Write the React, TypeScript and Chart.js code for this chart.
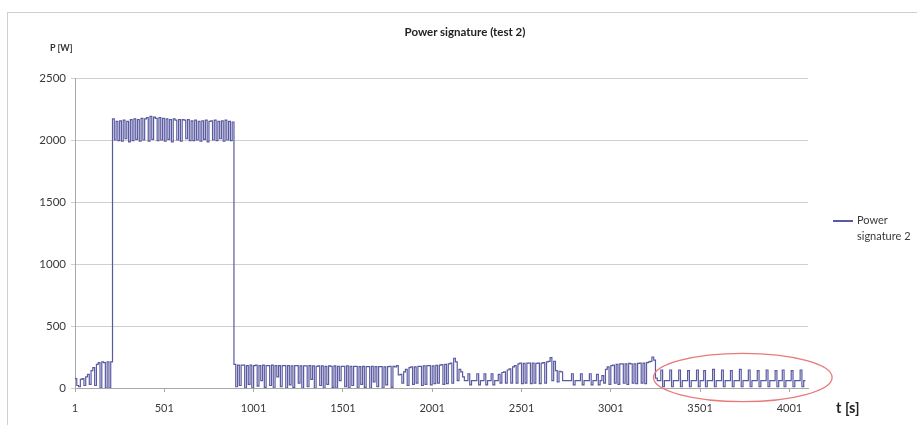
import React, { useEffect, useRef } from 'react';
import { Chart, registerables } from 'chart.js';

Chart.register(...registerables);

// ---- data (power in W, one sample every SAMPLE_STEP_S seconds starting at t = FIRST_T) ----
const FIRST_T = 1;
const SAMPLE_STEP_S = 10;
const X_MAX = 4105;
const xTickValues = [1, 501, 1001, 1501, 2001, 2501, 3001, 3501, 4001];
const yTickValues = [0, 500, 1000, 1500, 2000, 2500];

const rampStart = [75, 20, 10, 70, 75, 20, 90, 110, 30, 140, 165, 20, 190, 205, 0, 210, 205, 0, 210, 0, 210];

const highPlateau = [
  2170, 2000, 2150, 1995, 2155, 1990, 2160, 2010, 2150, 1985,
  2165, 1995, 2170, 2005, 2165, 1990, 2175, 2000, 2170, 2180,
  1990, 2190, 2005, 2185, 2175, 1995, 2180, 2000, 2175, 1990,
  2170, 2005, 2165, 1985, 2170, 2160, 2000, 2165, 1990, 2165,
  2160, 2010, 2165, 1995, 2155, 1995, 2160, 2000, 2150, 1990,
  2155, 2005, 2160, 1985, 2150, 2155, 2000, 2160, 1995, 2150,
  2010, 2155, 1990, 2160, 2000, 2150, 1995, 2145,
];

const lowBand = [
  190, 10, 185, 20, 185, 185, 0, 180, 30, 185,
  0, 180, 185, 15, 180, 60, 185, 5, 180, 180,
  20, 185, 0, 180, 90, 180, 10, 180, 180, 0,
  180, 25, 178, 5, 180, 180, 40, 178, 0, 178,
  178, 10, 180, 70, 178, 0, 175, 178, 20, 178,
  0, 175, 30, 178, 175, 5, 178, 0, 175, 60,
  175, 175, 10, 178, 0, 175, 20, 175, 175, 0,
  172, 30, 175, 5, 172, 172, 0, 175, 50, 172,
  10, 172, 172, 0, 170, 25, 172, 175, 5, 175,
  170, 180, 105,
];

const bump1 = [
  110, 40, 130, 150, 20, 165, 170, 30, 170, 40,
  175, 175, 20, 178, 30, 180, 180, 25, 178, 35,
  182, 40, 185, 188, 30, 190, 35, 195, 200, 40,
  240, 210, 60, 150, 130,
];

const pulses1 = [
  90, 60, 60, 115, 25, 60, 60, 60, 115, 25,
  60, 60, 115, 25, 60, 60, 115, 25, 60, 60,
];

const bump2 = [
  110, 40, 125, 130, 40, 145, 155, 40, 170, 180,
  40, 195, 200, 35, 198, 40, 200, 200, 35, 200,
  40, 198, 200, 35, 200, 205, 40, 210, 215, 245,
  60, 215, 140, 50, 135, 130, 60,
];

const pulses2 = [
  60, 60, 60, 60, 115, 25, 60, 60, 60, 115, 25,
  60, 60, 60, 115, 25, 60, 60, 110, 25, 60,
];

const bump3 = [
  100, 40, 150, 170, 30, 180, 185, 40, 190, 30,
  195, 195, 40, 195, 30, 198, 195, 40, 195, 35,
  198, 200, 40, 200, 35, 205, 210, 215, 250, 225, 80,
];

const pulses3 = [
  60, 60, 145, 10,
  60, 60, 60, 145, 10,
  60, 60, 60, 145, 10,
  60, 60, 60, 140, 10,
  60, 60, 60, 145, 10,
  60, 60, 140, 10,
  60, 60, 60, 150, 10,
  60, 60, 60, 145, 10,
  60, 60, 60, 140, 10,
  60, 60, 60, 150, 10,
  60, 60, 60, 145, 10,
  60, 60, 60, 140, 10,
  60, 60, 60, 145, 10,
  60, 60, 60, 140, 10,
  60, 60, 145, 10,
  60, 60, 60, 140, 10,
  60, 60, 60, 145, 10,
  60, 60,
];

// highlighted region (red ellipse), in data units
const highlightTime = [3240, 4240];
const highlightPower = [-110, 280];

const power: number[] = [
  ...rampStart, ...highPlateau, ...lowBand, ...bump1, ...pulses1,
  ...bump2, ...pulses2, ...bump3, ...pulses3,
];
const times: number[] = power.map((_, i) => FIRST_T + i * SAMPLE_STEP_S);

const FONT = 'Lato, "Open Sans", sans-serif';
const LINE_COLOR = '#5A5AA2';
const TEXT_COLOR = '#3A3A3A';

const ellipsePlugin = {
  id: 'highlightEllipse',
  afterDraw(chart: any) {
    const xs = chart.scales.x;
    const ys = chart.scales.y;
    const x1 = xs.getPixelForValue(highlightTime[0]);
    const x2 = xs.getPixelForValue(highlightTime[1]);
    const y1 = ys.getPixelForValue(highlightPower[1]);
    const y2 = ys.getPixelForValue(highlightPower[0]);
    const ctx = chart.ctx;
    ctx.save();
    ctx.beginPath();
    ctx.ellipse((x1 + x2) / 2, (y1 + y2) / 2, (x2 - x1) / 2, (y2 - y1) / 2, 0, 0, Math.PI * 2);
    ctx.strokeStyle = '#E97A7A';
    ctx.lineWidth = 1.3;
    ctx.stroke();
    ctx.restore();
  },
};

export default function App() {
  const canvasRef = useRef<HTMLCanvasElement | null>(null);

  useEffect(() => {
    document.body.style.margin = '0';
    const canvas = canvasRef.current;
    if (!canvas) return;
    const chart = new Chart(canvas, {
      type: 'line',
      data: {
        datasets: [
          {
            label: 'Power signature 2',
            data: times.map((t, i) => ({ x: t, y: power[i] })),
            borderColor: LINE_COLOR,
            borderWidth: 1.2,
            pointRadius: 0,
            stepped: true,
            fill: false,
          },
        ],
      },
      options: {
        animation: false,
        responsive: false,
        maintainAspectRatio: false,
        layout: { padding: { top: 78, right: 109, bottom: 0, left: 0 } },
        plugins: {
          legend: { display: false },
          title: { display: false },
          tooltip: { enabled: false },
        },
        scales: {
          x: {
            type: 'linear',
            min: FIRST_T,
            max: X_MAX,
            afterBuildTicks: (s: any) => {
              s.ticks = xTickValues.map((v) => ({ value: v }));
            },
            afterFit: (s: any) => {
              s.height = 37;
            },
            ticks: {
              autoSkip: false,
              maxRotation: 0,
              padding: 10,
              color: TEXT_COLOR,
              font: { family: FONT, size: 11 },
              callback: (v: any) => String(v),
            },
            grid: { drawOnChartArea: false, drawTicks: true, tickLength: 4, color: '#A8A8A8' },
            border: { display: true, color: '#A8A8A8' },
          },
          y: {
            min: 0,
            max: 2500,
            afterBuildTicks: (s: any) => {
              s.ticks = yTickValues.map((v) => ({ value: v }));
            },
            afterFit: (s: any) => {
              s.width = 75;
            },
            ticks: {
              padding: 5,
              color: TEXT_COLOR,
              font: { family: FONT, size: 11.5 },
              callback: (v: any) => String(v),
            },
            grid: { color: '#CFCFCF', tickLength: 4, drawTicks: true },
            border: { display: true, color: '#A8A8A8' },
          },
        },
      },
      plugins: [ellipsePlugin],
    } as any);
    return () => chart.destroy();
  }, []);

  return (
    <div style={{ position: 'relative', width: 917, height: 425, fontFamily: FONT, background: '#fff', overflow: 'hidden' }}>
      <div style={{ position: 'absolute', left: 7, top: 12, width: 920, height: 420, borderTop: '1px solid #CFCFCF', borderLeft: '1px solid #CFCFCF' }} />
      <canvas ref={canvasRef} width={917} height={425} style={{ position: 'absolute', left: 0, top: 0, display: 'block' }} />
      <div style={{ position: 'absolute', left: 465, top: 24, transform: 'translateX(-50%)', fontSize: 11.5, fontWeight: 700, color: '#222', whiteSpace: 'nowrap', lineHeight: '16px' }}>
        Power signature (test 2)
      </div>
      <div style={{ position: 'absolute', left: 50, top: 42, fontSize: 9, fontWeight: 700, color: '#333', whiteSpace: 'nowrap', lineHeight: '12px' }}>
        P [W]
      </div>
      <div style={{ position: 'absolute', left: 836, top: 399, fontSize: 14.5, fontWeight: 700, color: '#222', whiteSpace: 'nowrap', lineHeight: '18px' }}>
        t [s]
      </div>
      <div style={{ position: 'absolute', left: 833, top: 220, width: 20, height: 0, borderTop: `2px solid ${LINE_COLOR}` }} />
      <div style={{ position: 'absolute', left: 857, top: 212, fontSize: 11, color: TEXT_COLOR, lineHeight: '16px', whiteSpace: 'nowrap' }}>
        Power
        <br />
        signature 2
      </div>
    </div>
  );
}
